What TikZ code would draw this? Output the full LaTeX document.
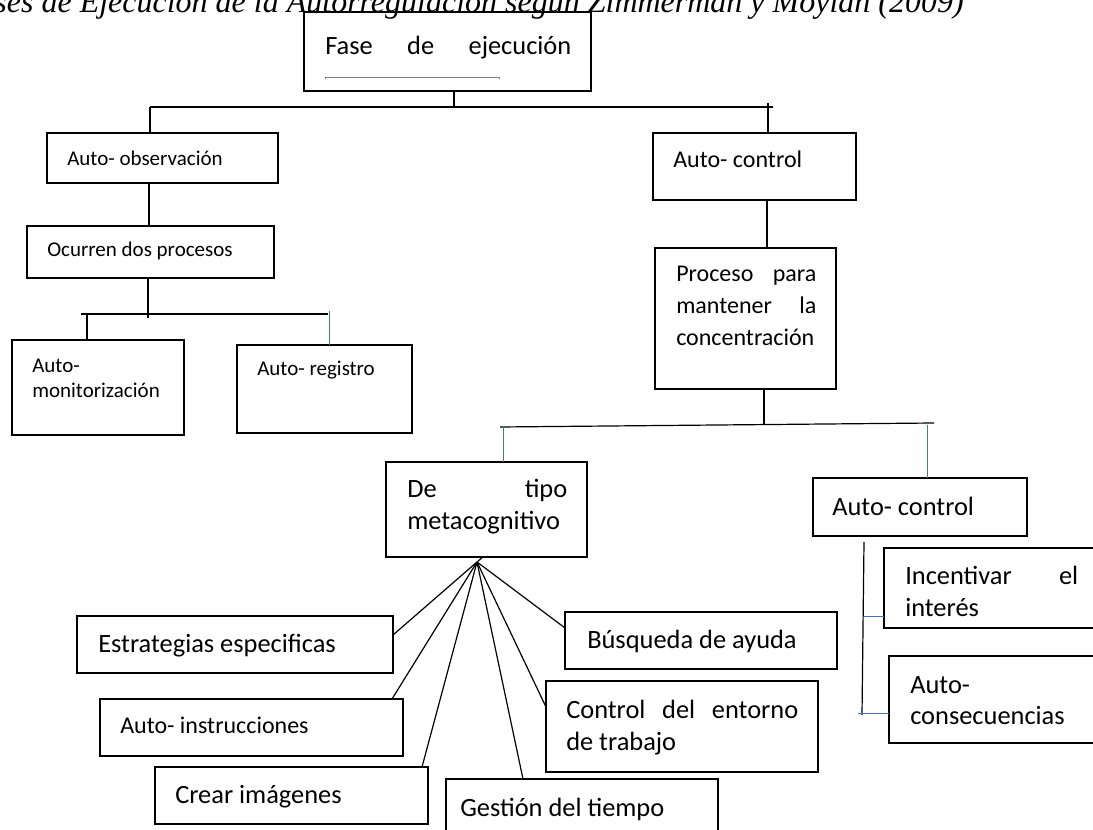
\documentclass[tikz,border=0pt]{standalone}
\usepackage{fontspec}
\setmainfont{Carlito}
\newfontfamily\titlefont{Liberation Serif}
\usetikzlibrary{calc}
\definecolor{wordblue}{RGB}{68,114,196}
\newcommand\bx[5]{\node[box, minimum width={(#4-#2)*0.75pt}, minimum height={(#5-#3)*0.75pt}] (#1) at ({(#2+#4)/2},{(#3+#5)/2}) {};}
\begin{document}
\begin{tikzpicture}[x=0.75pt,y=-0.75pt,
  box/.style={draw, line width=1pt, inner sep=0pt, outer sep=0pt},
  lbl/.style={anchor=base west, inner sep=0pt},
  big/.style={font=\fontsize{19.8}{24}\selectfont},
  mid/.style={font=\fontsize{18}{22}\selectfont},
  sml/.style={font=\fontsize{15.75}{19}\selectfont},
  conn/.style={line width=0.9pt},
  bconn/.style={wordblue, line width=0.7pt}]
\useasboundingbox (0,0) rectangle (1093,830);

% title (cropped at top)
\node[anchor=base east, inner sep=0pt, font=\titlefont\itshape\fontsize{24}{28}\selectfont] (title) at (964,13) {ses de Ejecución de la Autorregulación según Zimmerman y Moylan (2009)};

% boxes
\bx{fase}{304}{12}{591}{91}
\bx{obs}{47}{133}{278}{183}
\bx{ocu}{27}{226}{274}{278}
\bx{mon}{12}{340}{184}{435}
\bx{reg}{237}{345}{412}{433}
\bx{ac}{653}{133}{856}{200}
\bx{pro}{655}{248}{836}{389}
\bx{meta}{386}{462}{587}{557}
\bx{ac2}{813}{478}{1027}{536}
\bx{inc}{884}{548}{1100}{628}
\bx{cons}{889}{656}{1100}{743}
\bx{estr}{77}{616}{393}{673}
\bx{ins}{100}{699}{403}{756}
\bx{cre}{155}{767}{428}{824}
\bx{ges}{446}{779}{718}{845}
\bx{ctl}{546}{681}{818}{772}
\bx{bus}{565}{612}{837}{669}

% texts
\node[lbl,big] (tfase) at (325,55) {\makebox[184.5pt][s]{Fase\hfill de\hfill ejecución}};
\draw[gray, line width=0.5pt] (325,79) -- (325,77) -- (499,77) -- (499,79);
\node[lbl,sml] (tobs) at (67,166) {Auto- observación};
\node[lbl,sml] (tocu) at (47,257) {Ocurren dos procesos};
\node[lbl,sml] (tmon1) at (32,373) {Auto-};
\node[lbl,sml] (tmon2) at (32,398) {monitorización};
\node[lbl,sml] (treg) at (257,376) {Auto- registro};
\node[lbl,mid] (tac) at (673,168) {Auto- control};
\node[lbl,mid] (tpro1) at (676,282) {\makebox[105pt][s]{Proceso\hfill para}};
\node[lbl,mid] (tpro2) at (676,314) {\makebox[105pt][s]{mantener\hfill la}};
\node[lbl,mid] (tpro3) at (676,346) {concentración};
\node[lbl,big] (tmeta1) at (407,498) {\makebox[120pt][s]{De\hfill tipo}};
\node[lbl,big] (tmeta2) at (407,530) {metacognitivo};
\node[lbl,big] (tac2) at (832,516) {Auto- control};
\node[lbl,big] (tinc1) at (905,585) {\makebox[129.75pt][s]{Incentivar\hfill el}};
\node[lbl,big] (tinc2) at (905,616) {interés};
\node[lbl,big] (tcons1) at (910,693) {Auto-};
\node[lbl,big] (tcons2) at (910,724) {consecuencias};
\node[lbl,big] (testr) at (98,652) {Estrategias especificas};
\node[lbl,mid] (tins) at (120,733) {Auto- instrucciones};
\node[lbl,big] (tcre) at (175,803) {Crear imágenes};
\node[lbl,big] (tges) at (460,816) {Gestión del tiempo};
\node[lbl,big] (tctl1) at (566,718) {\makebox[174pt][s]{Control\hfill del\hfill entorno}};
\node[lbl,big] (tctl2) at (566,750) {de trabajo};
\node[lbl,big] (tbus) at (587,648) {Búsqueda de ayuda};

% connectors
\coordinate (b1) at (454,107);
\coordinate (b1L) at (150,107);
\coordinate (b1R) at (773,107);
\coordinate (t1R) at (768,103);
\draw[conn] (fase.south -| b1) -- (b1);
\draw[conn] (b1L) -- (b1R);
\draw[conn] (b1L) -- (obs.north -| b1L);
\draw[conn] (t1R) -- (ac.north -| t1R);

\coordinate (c2) at (149,0);
\draw[conn] (obs.south -| c2) -- (ocu.north -| c2);
\coordinate (c3) at (148,318);
\draw[conn] (ocu.south -| c3) -- (c3);
\coordinate (b2L) at (81,314);
\coordinate (b2R) at (328,314);
\draw[conn] (b2L) -- (b2R);
\coordinate (c4) at (87,314);
\draw[conn] (c4) -- (mon.north -| c4);
\coordinate (c5) at (329,311);
\draw[bconn] (c5) -- (reg.north -| c5);

\coordinate (c6) at (767,0);
\draw[conn] (ac.south -| c6) -- (pro.north -| c6);
\coordinate (c7) at (764,425);
\draw[conn] (pro.south -| c7) -- (c7);
\coordinate (b3L) at (500,427);
\coordinate (b3R) at (934,423);
\draw[conn] (b3L) -- (b3R);
\coordinate (c8) at (503,427);
\draw[bconn] (c8) -- (meta.north -| c8);
\coordinate (c9) at (927,425);
\draw[bconn] (c9) -- (ac2.north -| c9);

% fan from metacognitivo
\coordinate (fanT) at (483,557);
\coordinate (fan) at (477,562);
\draw[conn] (fanT) -- (fan);
\coordinate (e1) at (0,635);
\coordinate (e2) at (392,0);
\coordinate (e3) at (422,0);
\coordinate (e4) at (523,0);
\coordinate (e5) at (0,707);
\coordinate (e6) at (0,628);
\draw[conn] (fan) -- (estr.east |- e1);
\draw[conn] (fan) -- (ins.north -| e2);
\draw[conn] (fan) -- (cre.north -| e3);
\draw[conn] (fan) -- (ges.north -| e4);
\draw[conn] (fan) -- (ctl.west |- e5);
\draw[conn] (fan) -- (bus.west |- e6);

% auto-control branch
\coordinate (v1) at (864,542);
\coordinate (v2) at (862,715);
\draw[conn] (v1) -- (v2);
\coordinate (h1) at (864,616);
\coordinate (h2) at (858,713);
\draw[bconn] (h1) -- (inc.west |- h1);
\draw[bconn] (h2) -- (cons.west |- h2);
\end{tikzpicture}
\end{document}
